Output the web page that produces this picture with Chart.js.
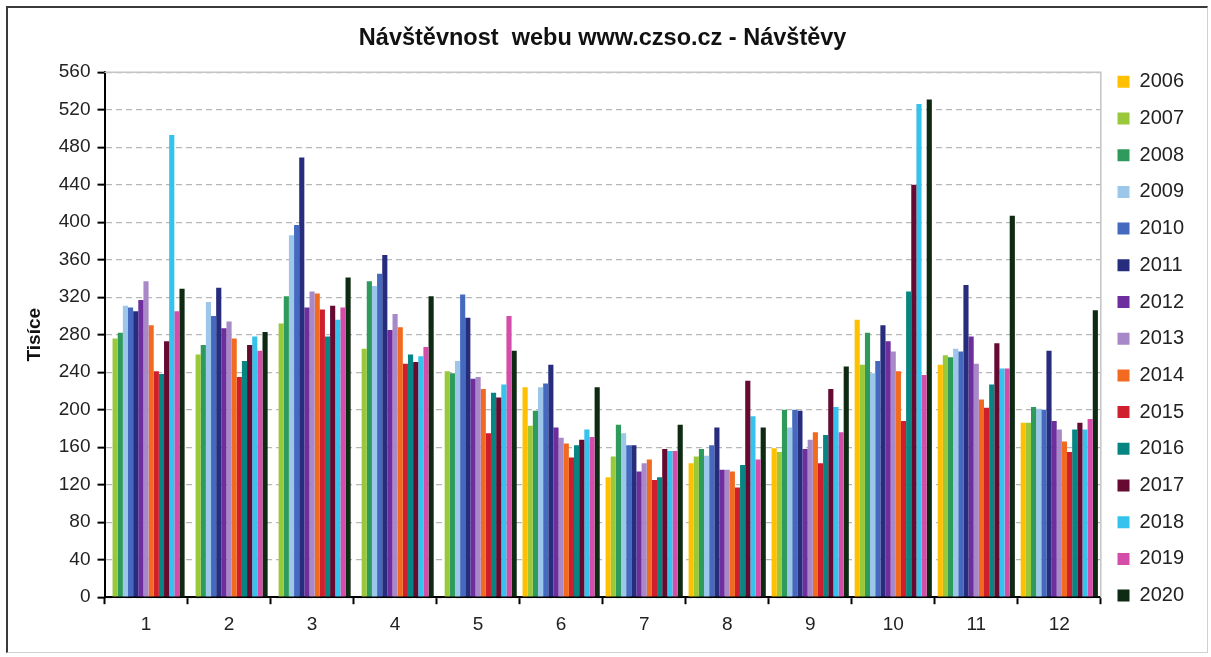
<!DOCTYPE html>
<html>
<head>
<meta charset="utf-8">
<script src="https://cdn.jsdelivr.net/npm/chart.js@4.4.1/dist/chart.umd.min.js"></script>
<style>
  html, body { margin: 0; padding: 0; background: #fff; }
  #wrap { position: relative; width: 1211px; height: 657px; }
  #frame {
    position: absolute; left: 6px; top: 6px; width: 1199px; height: 644px;
    border-top: 2px solid #3a3a3a; border-left: 2px solid #3a3a3a;
    border-right: 1px solid #d0d0d0; border-bottom: 1px solid #d0d0d0;
    pointer-events: none;
  }
  canvas { position: absolute; left: 0; top: 0; }
</style>
</head>
<body>
<div id="wrap">
  <canvas id="graf" width="1211" height="657"></canvas>
  <div id="frame"></div>
</div>
<script>
const mesice = ['1', '2', '3', '4', '5', '6', '7', '8', '9', '10', '11', '12'];
const roky = ['2006', '2007', '2008', '2009', '2010', '2011', '2012', '2013', '2014', '2015', '2016', '2017', '2018', '2019', '2020'];

// navstevy v tisicich, mesice 1-12
const r2006 = [null, null, null, null, null, 224, 128, 143, 159, 296, 248, 186];
const r2007 = [276, 259, 292, 265, 241, 183, 150, 150, 155, 248, 258, 186];
const r2008 = [282, 269, 321, 337, 239, 199, 184, 158, 200, 282, 256, 203];
const r2009 = [311, 315, 386, 332, 252, 224, 175, 151, 181, 239, 265, 201];
const r2010 = [309, 300, 397, 345, 323, 228, 162, 162, 200, 252, 262, 200];
const r2011 = [305, 330, 469, 365, 298, 248, 162, 181, 199, 290, 333, 263];
const r2012 = [317, 287, 309, 285, 233, 181, 134, 136, 158, 273, 278, 188];
const r2013 = [337, 294, 326, 302, 235, 170, 143, 136, 168, 262, 249, 179];
const r2014 = [290, 276, 324, 288, 222, 164, 147, 134, 176, 241, 211, 166];
const r2015 = [241, 235, 307, 249, 175, 149, 125, 117, 143, 188, 202, 155];
const r2016 = [238, 252, 278, 259, 218, 162, 128, 141, 173, 326, 227, 179];
const r2017 = [273, 269, 311, 251, 213, 168, 158, 231, 222, 440, 271, 186];
const r2018 = [493, 278, 296, 257, 227, 179, 156, 193, 203, 526, 244, 179];
const r2019 = [305, 263, 309, 267, 300, 171, 156, 147, 176, 237, 244, 190];
const r2020 = [329, 283, 341, 321, 263, 224, 184, 181, 246, 531, 407, 306];

const osaY = [0, 40, 80, 120, 160, 200, 240, 280, 320, 360, 400, 440, 480, 520, 560];

const hodnoty = [r2006, r2007, r2008, r2009, r2010, r2011, r2012, r2013, r2014, r2015, r2016, r2017, r2018, r2019, r2020];
const barvy = ['#FFC000', '#99C83A', '#2E9A5C', '#9DC7EA', '#4469BF', '#272C7C', '#6E2E9E', '#A988C8',
               '#F26A1F', '#CF1F2C', '#078583', '#660A32', '#35C3EE', '#D44DA8', '#0E2A12'];

const pismo = 'Liberation Sans, Arial, sans-serif';

// seda horni a prava hrana plochy grafu
const rameckPlochy = {
    id: 'rameckPlochy',
    beforeDatasetsDraw(chart) {
        const { ctx, chartArea: a } = chart;
        ctx.save();
        ctx.strokeStyle = '#c4c4c4';
        ctx.lineWidth = 1.5;
        ctx.beginPath();
        ctx.moveTo(a.left, a.top);
        ctx.lineTo(a.right, a.top);
        ctx.lineTo(a.right, a.bottom);
        ctx.stroke();
        ctx.restore();
    }
};

new Chart(document.getElementById('graf'), {
    type: 'bar',
    data: {
        labels: mesice,
        datasets: roky.map((rok, i) => ({
            label: rok,
            data: hodnoty[i],
            backgroundColor: barvy[i],
            borderWidth: 0,
            categoryPercentage: 0.93,
            barPercentage: 1.0
        }))
    },
    options: {
        responsive: false,
        animation: false,
        layout: { padding: { left: 23, right: 17, top: 22, bottom: 12 } },
        plugins: {
            title: {
                display: true,
                fullSize: false,
                text: 'Návštěvnost  webu www.czso.cz - Návštěvy',
                color: '#111',
                font: { family: pismo, size: 23.5, weight: 'bold' },
                padding: { top: 2, bottom: 20 }
            },
            legend: {
                position: 'right',
                title: { display: true, text: '', font: { size: 2 }, padding: { top: 4, bottom: 4 } },
                labels: {
                    boxWidth: 12,
                    boxHeight: 12,
                    padding: 16.7,
                    color: '#222',
                    font: { family: pismo, size: 20 }
                }
            },
            tooltip: { enabled: false }
        },
        scales: {
            x: {
                grid: {
                    offset: true,
                    drawOnChartArea: false,
                    tickColor: '#000',
                    tickLength: 7,
                    tickWidth: 2
                },
                border: { color: '#000', width: 2 },
                ticks: { color: '#222', font: { family: pismo, size: 19 }, padding: 9 }
            },
            y: {
                min: 0,
                max: 560,
                afterBuildTicks(axis) {
                    axis.ticks = osaY.map(v => ({ value: v }));
                },
                grid: {
                    color: '#b8b8b8',
                    lineWidth: 1.3,
                    tickColor: '#000',
                    tickLength: 7,
                    tickWidth: 2,
                    tickBorderDash: []
                },
                border: { color: '#000', width: 2, dash: [6, 4] },
                ticks: { color: '#222', font: { family: pismo, size: 19 }, padding: 7 },
                title: {
                    display: true,
                    text: 'Tisíce',
                    color: '#111',
                    font: { family: pismo, size: 19, weight: 'bold' },
                    padding: { top: 0, bottom: 6 }
                }
            }
        }
    },
    plugins: [rameckPlochy]
});
</script>
</body>
</html>
